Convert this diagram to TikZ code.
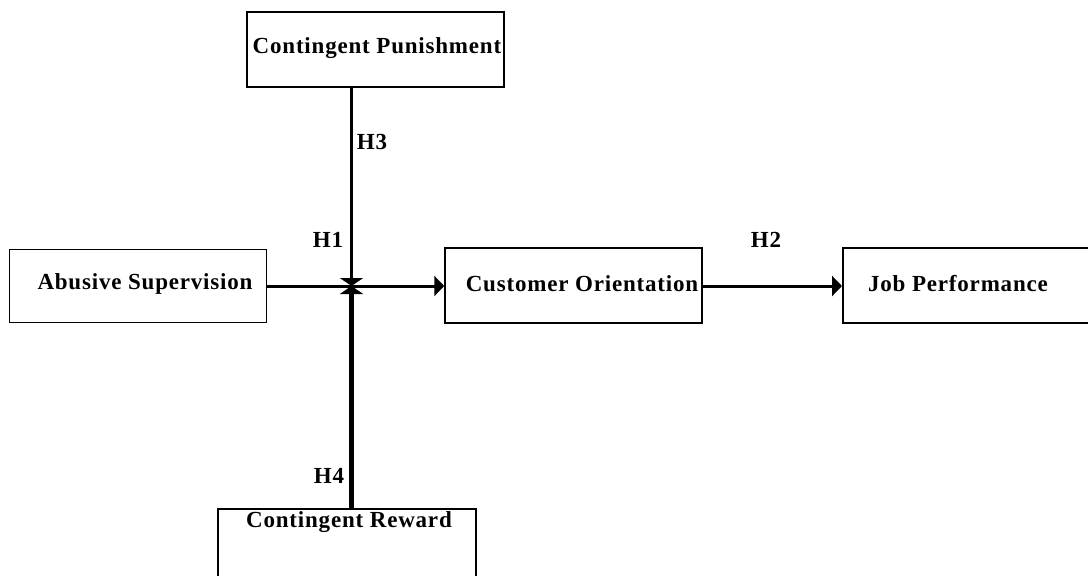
\documentclass[tikz,border=0pt]{standalone}
\usepackage{fontspec}
\setmainfont{Liberation Serif}[LetterSpace=3.5]
\usetikzlibrary{arrows.meta}
\begin{document}
\begin{tikzpicture}[x=1pt,y=-1pt,
  box/.style={draw,line width=1.5pt,inner sep=0pt},
  lbl/.style={font=\fontsize{23}{26}\selectfont\bfseries,inner sep=0pt},
  conn/.style={line width=3pt},
  tip/.style={-{Triangle[length=10pt,width=20pt]}},
  cross/.style={-{Triangle[length=8pt,width=23pt]}}]
\useasboundingbox (0,0) rectangle (1088,576);
\clip (0,0) rectangle (1088,576);
% boxes
\node[box,minimum width=257pt,minimum height=75pt] (punish) at (375.5,49.5) {};
\node[box,minimum width=257pt,minimum height=73pt] (abuse) at (138,286) {};
\node[box,minimum width=257pt,minimum height=75pt] (cust) at (573.5,285.5) {};
\node[box,minimum width=300pt,minimum height=75pt,anchor=west] (job) at (842,285.5) {};
\node[box,minimum width=258pt,minimum height=90pt,anchor=north] (reward) at (347,508) {};
% texts
\node[lbl] (tpunish) at (377,48) {Contingent Punishment};
\node[lbl] (tabuse) at (145,284) {Abusive Supervision};
\node[lbl] (tcust) at (582,284) {Customer Orientation};
\node[lbl] (tjob) at (958,284) {Job Performance};
\node[lbl] (treward) at (349,522) {Contingent Reward};
\node[lbl] (h1) at (328,240) {H1};
\node[lbl] (h2) at (766,240) {H2};
\node[lbl] (h3) at (372,142) {H3};
\node[lbl] (h4) at (329,476) {H4};
% connectors
\coordinate (X) at (351.5,286);
\draw[conn,tip] (abuse.east |- X) -- (cust.west |- X);
\draw[conn,tip] (cust.east |- X) -- (job.west |- X);
\draw[line width=3.5pt,cross] (punish.south -| X) -- (X);
\draw[line width=5pt,cross] (reward.north -| X) -- (X);
\end{tikzpicture}
\end{document}
